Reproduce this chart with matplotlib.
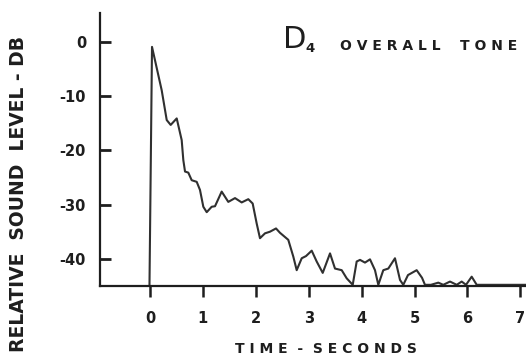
import matplotlib
matplotlib.use("Agg")
import matplotlib.pyplot as plt

# ---- data ----
time_s = [-0.01, 0.038, 0.221, 0.316, 0.391, 0.505, 0.599, 0.63, 0.662, 0.724,
          0.788, 0.883, 0.945, 1.008, 1.072, 1.166, 1.229, 1.355, 1.48, 1.607,
          1.733, 1.858, 1.941, 2.017, 2.079, 2.174, 2.268, 2.382, 2.457, 2.614,
          2.709, 2.773, 2.868, 2.949, 3.057, 3.151, 3.265, 3.403, 3.497, 3.624,
          3.718, 3.832, 3.907, 3.97, 4.064, 4.159, 4.253, 4.316, 4.41, 4.505,
          4.631, 4.726, 4.788, 4.877, 5.041, 5.142, 5.198, 5.31, 5.45, 5.544,
          5.671, 5.798, 5.892, 5.974, 6.081, 6.176, 7.2]
level_db = [-45.0, -0.9, -8.9, -14.4, -15.3, -14.1, -18.1, -21.8, -23.9, -24.1,
            -25.5, -25.8, -27.3, -30.4, -31.4, -30.4, -30.3, -27.6, -29.5, -28.8,
            -29.6, -29.0, -29.8, -33.5, -36.2, -35.3, -35.0, -34.4, -35.2, -36.5,
            -39.6, -42.1, -39.9, -39.5, -38.5, -40.5, -42.6, -39.0, -41.8, -42.1,
            -43.6, -44.8, -40.5, -40.2, -40.7, -40.1, -42.1, -44.8, -42.1, -41.8,
            -39.9, -43.9, -44.8, -43.0, -42.1, -43.5, -44.8, -44.8, -44.4, -44.8,
            -44.2, -44.8, -44.2, -44.8, -43.3, -44.8, -44.8]
x_ticks = [0, 1, 2, 3, 4, 5, 6, 7]
x_labels = ["0", "1", "2", "3", "4", "5", "6", "7"]
y_ticks = [0, -10, -20, -30, -40]
y_labels = ["0", "-10", "-20", "-30", "-40"]

W, H = 526, 358
fig = plt.figure(figsize=(W / 100, H / 100), dpi=100)
fig.patch.set_facecolor("white")

left, right, top, bottom = 100, 527, 13, 286
ax = fig.add_axes([left / W, 1 - bottom / H, (right - left) / W, (bottom - top) / H])
ink = "#1e1e1e"

ax.plot(time_s, level_db, color="#303030", lw=1.5, solid_joinstyle="round")

ax.set_xlim((left - 150) / 52.9, (right - 150) / 52.9)
ax.set_ylim(-(bottom - 42) / 5.42, -(top - 42) / 5.42)

for s in ["top", "right"]:
    ax.spines[s].set_visible(False)
for s in ["left", "bottom"]:
    ax.spines[s].set_linewidth(1.6)
    ax.spines[s].set_color(ink)

ax.set_xticks(x_ticks)
ax.set_xticklabels(x_labels, fontsize=10.5, fontweight="bold", color=ink)
ax.set_yticks(y_ticks)
ax.set_yticklabels(y_labels, fontsize=10.5, fontweight="bold", color=ink)
ax.tick_params(axis="x", direction="out", length=8, width=1.8, pad=10, colors=ink)
ax.tick_params(axis="y", direction="in", length=8, width=2.0, pad=10, colors=ink)

def ftext(x, y, s, **kw):
    fig.text(x / W, 1 - y / H, s, **kw)

ftext(326, 349, "T I M E  -  S E C O N D S", fontsize=10, fontweight="bold",
      color=ink, ha="center", va="center")
ftext(19, 194, "RELATIVE  SOUND  LEVEL - DB", fontsize=13.5,
      fontweight="bold", color=ink, ha="center", va="center", rotation=90)
ftext(283, 48, "D", fontsize=22, color=ink, ha="left", va="baseline")
ftext(305, 52, "4", fontsize=9.5, fontweight="bold", color=ink, ha="left", va="baseline")
ftext(340, 50, "O V E R A L L", fontsize=10, fontweight="bold", color=ink,
      ha="left", va="baseline")
ftext(460, 50, "T O N E", fontsize=10, fontweight="bold", color=ink,
      ha="left", va="baseline")

fig.savefig("out.png", dpi=100, facecolor="white")
